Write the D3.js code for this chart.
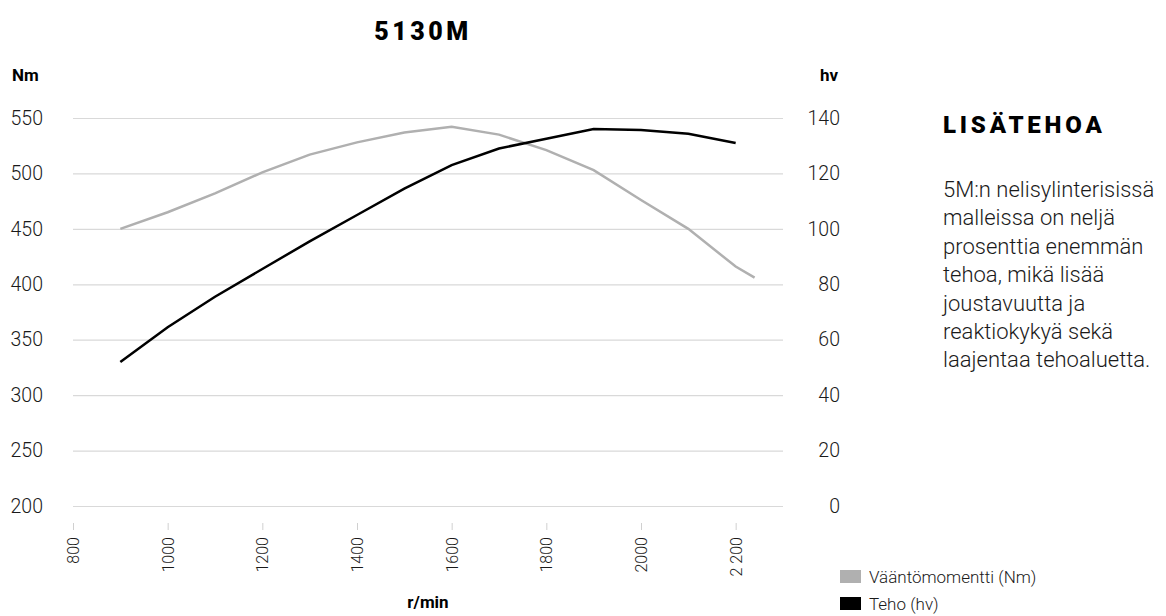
<!DOCTYPE html>
<html>
<head>
<meta charset="utf-8">
<script src="https://cdn.jsdelivr.net/npm/d3@7"></script>
<style>
  body { margin: 0; background: #fff; }
  text { font-family: Roboto, "Open Sans", sans-serif; }
</style>
</head>
<body>
<div class="chart"></div>
<script>
// page size
const svgWidth = 1166;
const svgHeight = 616;

// plot area
const plot = { left: 73, right: 783, top: 118, bottom: 506 };

// data
const powerRpm = [900, 1000, 1100, 1200, 1300, 1400, 1500, 1600, 1700, 1800, 1900, 2000, 2100, 2200];
const powerHv = [52, 64.5, 75.5, 85.5, 95.5, 105, 114.5, 123, 129, 132.5, 136, 135.7, 134.3, 131];
const torqueRpm = [900, 1000, 1100, 1200, 1300, 1400, 1500, 1600, 1700, 1800, 1900, 2000, 2100, 2200, 2240];
const torqueNm = [450, 465, 482, 501, 517, 528, 537, 542, 535, 521, 503, 476, 450, 416, 406];

const xTicks = [800, 1000, 1200, 1400, 1600, 1800, 2000, 2200];
const xTickLabels = ["800", "1000", "1200", "1400", "1600", "1800", "2000", "2 200"];
const nmTicks = [200, 250, 300, 350, 400, 450, 500, 550];
const hvTicks = [0, 20, 40, 60, 80, 100, 120, 140];

const seriesNames = ["Vääntömomentti (Nm)", "Teho (hv)"];
const seriesColors = ["#b0b0b0", "#000000"];

const sideTitle = "LISÄTEHOA";
const sideText = ["5M:n nelisylinterisissä", "malleissa on neljä", "prosenttia enemmän",
  "tehoa, mikä lisää", "joustavuutta ja", "reaktiokykyä sekä", "laajentaa tehoaluetta."];

// svg
const svg = d3.select(".chart")
  .append("svg")
  .attr("width", svgWidth)
  .attr("height", svgHeight);

// scales
const xScale = d3.scaleLinear()
  .domain([800, 2300])
  .range([plot.left, plot.right]);

const yNm = d3.scaleLinear()
  .domain([200, 550])
  .range([plot.bottom, plot.top]);

const yHv = d3.scaleLinear()
  .domain([0, 140])
  .range([plot.bottom, plot.top]);

// left axis + gridlines
const leftAxis = svg.append("g")
  .attr("transform", `translate(${plot.left}, 0)`)
  .call(d3.axisLeft(yNm).tickValues(nmTicks).tickSize(-(plot.right - plot.left)).tickPadding(30));
leftAxis.select(".domain").remove();
leftAxis.selectAll("line").attr("stroke", "#d9d9d9").attr("stroke-width", 1.2);
leftAxis.selectAll("text")
  .attr("font-size", 19.5).attr("font-weight", 300).attr("fill", "#1a1a1a");

// right axis labels
const rightAxis = svg.append("g")
  .attr("transform", `translate(840, 0)`)
  .call(d3.axisLeft(yHv).tickValues(hvTicks).tickSize(0).tickPadding(0));
rightAxis.select(".domain").remove();
rightAxis.selectAll("text")
  .attr("font-size", 19.5).attr("font-weight", 300).attr("fill", "#1a1a1a");

// x axis
const xAxis = svg.append("g")
  .attr("transform", `translate(0, 523)`)
  .call(d3.axisBottom(xScale).tickValues(xTicks).tickSize(7)
    .tickFormat((d, i) => xTickLabels[i]));
xAxis.select(".domain").remove();
xAxis.selectAll("line").attr("stroke", "#d0d0d0");
xAxis.selectAll("text")
  .attr("transform", "rotate(-90)")
  .attr("x", -14)
  .attr("y", 0)
  .attr("dy", "0.35em")
  .attr("text-anchor", "end")
  .attr("font-size", 16).attr("font-weight", 300).attr("fill", "#1a1a1a");

// lines
const torqueLine = d3.line()
  .x((d, i) => xScale(torqueRpm[i]))
  .y(d => yNm(d));

const powerLine = d3.line()
  .x((d, i) => xScale(powerRpm[i]))
  .y(d => yHv(d));

svg.append("path")
  .attr("d", torqueLine(torqueNm))
  .attr("fill", "none")
  .attr("stroke", seriesColors[0])
  .attr("stroke-width", 2.5);

svg.append("path")
  .attr("d", powerLine(powerHv))
  .attr("fill", "none")
  .attr("stroke", seriesColors[1])
  .attr("stroke-width", 2.5);

// titles
svg.append("text")
  .attr("x", 423).attr("y", 40)
  .attr("text-anchor", "middle")
  .attr("font-size", 25).attr("font-weight", 900)
  .attr("letter-spacing", 3.5)
  .text("5130M");

svg.append("text")
  .attr("x", 12).attr("y", 81)
  .attr("font-size", 17).attr("font-weight", 700)
  .text("Nm");

svg.append("text")
  .attr("x", 820).attr("y", 81)
  .attr("font-size", 17).attr("font-weight", 700)
  .text("hv");

svg.append("text")
  .attr("x", (plot.left + plot.right) / 2).attr("y", 608)
  .attr("text-anchor", "middle")
  .attr("font-size", 17).attr("font-weight", 700)
  .text("r/min");

// side text
svg.append("text")
  .attr("x", 943).attr("y", 133)
  .attr("font-size", 24).attr("font-weight", 900)
  .attr("letter-spacing", 3.8)
  .text(sideTitle);

svg.append("g").selectAll("text")
  .data(sideText)
  .enter()
  .append("text")
  .attr("x", 943)
  .attr("y", (d, i) => 197 + i * 28.4)
  .attr("font-size", 22).attr("font-weight", 300).attr("fill", "#1a1a1a")
  .text(d => d);

// legend
const legend = svg.append("g").selectAll("g")
  .data(seriesNames)
  .enter()
  .append("g")
  .attr("transform", (d, i) => `translate(840, ${570 + i * 27})`);

legend.append("rect")
  .attr("width", 21).attr("height", 13)
  .attr("fill", (d, i) => seriesColors[i]);

legend.append("text")
  .attr("x", 29).attr("y", 13)
  .attr("font-size", 17).attr("font-weight", 300).attr("fill", "#1a1a1a")
  .text(d => d);
</script>
</body>
</html>
